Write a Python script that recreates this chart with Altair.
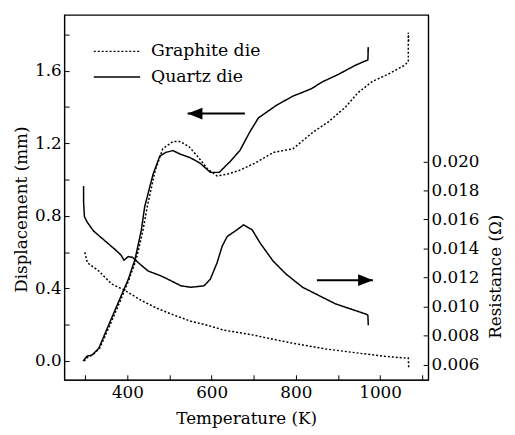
import altair as alt
import pandas as pd

# ---------------- data ----------------
series_names = ["Graphite die", "Quartz die"]

# Displacement (mm) vs temperature (K)
quartz_disp_T = [295, 304, 316, 332, 355, 379, 402, 418, 433, 441, 461, 477, 491, 508, 526, 550,
                 573, 597, 618, 644, 667, 690, 711, 754, 793, 836, 864, 901, 941, 971, 972, 971]
quartz_disp_D = [0.00, 0.027, 0.033, 0.07, 0.196, 0.326, 0.45, 0.56, 0.72, 0.85, 1.03, 1.13, 1.15,
                 1.16, 1.14, 1.12, 1.09, 1.04, 1.04, 1.10, 1.16, 1.26, 1.34, 1.41, 1.46, 1.50, 1.54,
                 1.58, 1.63, 1.66, 1.73, 1.70]

graphite_disp_T = [297, 305, 318, 334, 357, 381, 404, 421, 437, 447, 466, 484, 508, 526, 547, 566,
                   590, 613, 637, 665, 702, 747, 793, 840, 878, 918, 948, 981, 1018, 1058, 1067,
                   1067, 1068]
graphite_disp_D = [0.00, 0.02, 0.035, 0.07, 0.19, 0.32, 0.45, 0.56, 0.72, 0.85, 1.05, 1.17, 1.21,
                   1.21, 1.18, 1.13, 1.06, 1.02, 1.03, 1.05, 1.09, 1.15, 1.17, 1.26, 1.32, 1.40,
                   1.48, 1.54, 1.58, 1.63, 1.65, 1.81, 1.76]

# Resistance (Ohm) vs temperature (K)
quartz_res_T = [296, 296, 298, 305, 320, 348, 371, 385, 392, 396, 402, 412, 426, 449, 480, 504,
                527, 551, 582, 597, 613, 625, 637, 660, 676, 696, 715, 746, 777, 816, 855, 894,
                933, 968, 971, 972]
quartz_res_R = [0.0183, 0.0172, 0.0162, 0.0158, 0.0152, 0.0145, 0.01393, 0.01355, 0.0132, 0.0133,
                0.01345, 0.0134, 0.01303, 0.01246, 0.01212, 0.01178, 0.01144, 0.01134, 0.01144,
                0.0119, 0.01303, 0.01416, 0.01483, 0.01529, 0.01563, 0.0153, 0.01439, 0.01314,
                0.01224, 0.01134, 0.01077, 0.0102, 0.00982, 0.00948, 0.00941, 0.00873]

graphite_res_T = [299, 305, 332, 363, 395, 433, 473, 512, 551, 590, 629, 676, 707, 715, 793, 871,
                  949, 1011, 1062, 1067, 1068]
graphite_res_R = [0.01375, 0.01303, 0.01246, 0.01156, 0.01111, 0.01043, 0.00986, 0.00941, 0.0090,
                  0.00873, 0.00839, 0.00817, 0.00801, 0.00795, 0.00749, 0.0071, 0.00681, 0.00659,
                  0.00647, 0.00647, 0.0058]

# axis ticks
x_ticks = [300, 400, 500, 600, 700, 800, 900, 1000, 1100]
disp_ticks = [0.0, 0.2, 0.4, 0.6, 0.8, 1.0, 1.2, 1.4, 1.6, 1.8]
res_ticks = [0.006, 0.008, 0.010, 0.012, 0.014, 0.016, 0.018, 0.020]

# arrows (tip first, tail second)
left_arrow_T = [543, 679]
left_arrow_D = 1.364
right_arrow_T = [983, 850]
right_arrow_R = 0.01183


def make_frame(T, V, name, col):
    return pd.DataFrame({"T": T, col: V, "series": name, "idx": range(len(T))})


disp_df = pd.concat([make_frame(graphite_disp_T, graphite_disp_D, series_names[0], "D"),
                     make_frame(quartz_disp_T, quartz_disp_D, series_names[1], "D")])
res_df = pd.concat([make_frame(graphite_res_T, graphite_res_R, series_names[0], "R"),
                    make_frame(quartz_res_T, quartz_res_R, series_names[1], "R")])

left_arrow_df = pd.DataFrame({"T": [left_arrow_T[0]], "T2": [left_arrow_T[1]], "D": [left_arrow_D]})
right_arrow_df = pd.DataFrame({"T": [right_arrow_T[0]], "T2": [right_arrow_T[1]], "R": [right_arrow_R]})

FONT = "DejaVu Serif"
FS = 17
X_DOMAIN = [250, 1114]
D_DOMAIN = [-0.103, 1.908]
R_DOMAIN = [0.00498, 0.03007]
W, H = 369, 370

x_axis = alt.Axis(values=x_ticks, title="Temperature (K)",
                  labelExpr="datum.value % 200 == 0 ? format(datum.value, 'd') : ''",
                  tickSize={"expr": "-5"}, labelPadding=10, labelFlush=False,
                  titleX=W / 2, titleY=39, titleBaseline="middle", titleAlign="center")
x_enc = alt.X("T:Q", scale=alt.Scale(domain=X_DOMAIN, nice=False, zero=False), axis=x_axis)

left_axis = alt.Axis(values=disp_ticks, title="Displacement (mm)", orient="left",
                     labelExpr="round(datum.value * 10) % 4 == 0 ? format(datum.value, '.1f') : ''",
                     tickSize={"expr": "-5"}, labelPadding=8, labelFlush=False,
                     titleX=-43, titleY=197, titleAngle=270, titleBaseline="middle",
                     titleAlign="center")
y_left = alt.Y("D:Q", scale=alt.Scale(domain=D_DOMAIN, nice=False, zero=False), axis=left_axis)

right_axis = alt.Axis(values=res_ticks, title="Resistance (Ω)", orient="right", format=".3f",
                      tickSize={"expr": "-5"}, labelPadding=8, labelFlush=False,
                      titleX=68, titleY=265, titleAngle=270, titleBaseline="middle",
                      titleAlign="center")
y_right = alt.Y("R:Q", scale=alt.Scale(domain=R_DOMAIN, nice=False, zero=False), axis=right_axis)

dash = alt.StrokeDash("series:N", scale=alt.Scale(domain=series_names, range=[[2, 2], [1, 0]]),
                      legend=None)

disp_lines = alt.Chart(disp_df).mark_line(color="black", strokeWidth=1.5).encode(
    x=x_enc, y=y_left, strokeDash=dash, order="idx:Q")
left_rule = alt.Chart(left_arrow_df).mark_rule(color="black", strokeWidth=2).encode(
    x=x_enc, x2="T2:Q", y=y_left)
left_head = alt.Chart(left_arrow_df).mark_point(
    shape="M0,0 L2,-0.8 L2,0.8 Z", filled=True, size=225, color="black", opacity=1).encode(
    x=x_enc, y=y_left)

# manual legend
leg_g_line = alt.Chart(pd.DataFrame({"s": [series_names[0]]})).mark_rule(
    color="black", strokeWidth=1.5, strokeDash=[2, 2]).encode(
    x=alt.value(30), x2=alt.value(76), y=alt.value(37))
leg_q_line = alt.Chart(pd.DataFrame({"s": [series_names[1]]})).mark_rule(
    color="black", strokeWidth=1.5).encode(
    x=alt.value(30), x2=alt.value(77), y=alt.value(63))
leg_g_text = alt.Chart(pd.DataFrame({"s": [series_names[0]]})).mark_text(
    font=FONT, fontSize=17.5, align="left", baseline="middle", color="black").encode(
    x=alt.value(88), y=alt.value(37), text="s:N")
leg_q_text = alt.Chart(pd.DataFrame({"s": [series_names[1]]})).mark_text(
    font=FONT, fontSize=17.5, align="left", baseline="middle", color="black").encode(
    x=alt.value(88), y=alt.value(63), text="s:N")

left = alt.layer(disp_lines, left_rule, left_head, leg_g_line, leg_q_line, leg_g_text, leg_q_text)

res_lines = alt.Chart(res_df).mark_line(color="black", strokeWidth=1.5).encode(
    x=x_enc, y=y_right, strokeDash=dash, order="idx:Q")
right_rule = alt.Chart(right_arrow_df).mark_rule(color="black", strokeWidth=2).encode(
    x=x_enc, x2="T2:Q", y=y_right)
right_head = alt.Chart(right_arrow_df).mark_point(
    shape="M0,0 L-2,-0.8 L-2,0.8 Z", filled=True, size=225, color="black", opacity=1).encode(
    x=x_enc, y=y_right)

right = alt.layer(res_lines, right_rule, right_head)

chart = alt.layer(left, right).resolve_scale(y="independent").properties(
    width=W, height=H,
    autosize=alt.AutoSizeParams(type="none"),
    padding={"left": 57, "top": 4, "right": 80, "bottom": 50},
).configure_axis(
    labelFont=FONT, labelFontSize=FS, titleFont=FONT, titleFontSize=FS,
    titleFontWeight="normal", labelColor="black", titleColor="black",
    tickColor="black", domainColor="black", grid=False, tickWidth=1, domainWidth=1.2,
).configure_view(stroke="black", strokeWidth=1.2)

chart.save("out.html", embed_options={"renderer": "svg", "actions": False})
